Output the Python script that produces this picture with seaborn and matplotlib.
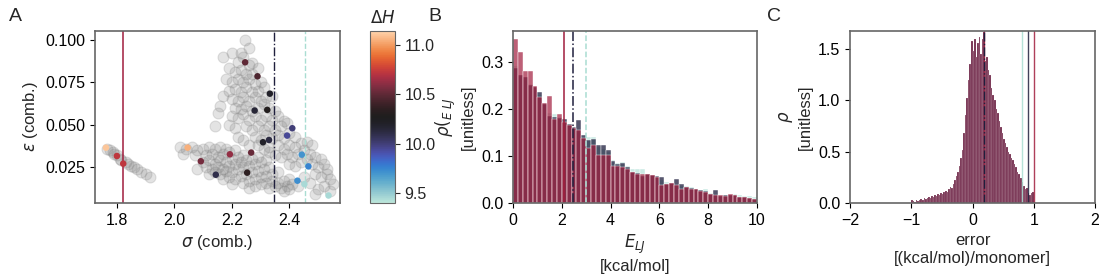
import numpy as np
import pandas as pd
import matplotlib
matplotlib.use('Agg')
import matplotlib.pyplot as plt
import seaborn as sns

# --- panel A: all parameter sets (grey) ---
sigma_all = [
    1.765, 1.775, 1.785, 1.79, 1.80, 1.81, 1.815, 1.83, 1.84, 1.85, 1.86, 1.87, 1.885, 1.90, 1.915,
    2.245, 2.26, 2.20, 2.23, 2.24, 2.17, 2.22, 2.26, 2.27, 2.19, 2.21, 2.23, 2.25, 2.27, 2.29,
    2.18, 2.20, 2.22, 2.24, 2.26, 2.28, 2.30, 2.19, 2.21, 2.23, 2.25, 2.27, 2.29, 2.31,
    2.17, 2.20, 2.22, 2.24, 2.26, 2.28, 2.30, 2.32, 2.34, 2.16, 2.21, 2.23, 2.25, 2.27, 2.29,
    2.31, 2.33, 2.35, 2.15, 2.20, 2.22, 2.24, 2.26, 2.28, 2.30, 2.32, 2.34, 2.36, 2.38,
    2.14, 2.19, 2.21, 2.25, 2.27, 2.29, 2.31, 2.33, 2.35, 2.37, 2.39, 2.22, 2.24, 2.28, 2.30,
    2.32, 2.34, 2.36, 2.38, 2.40, 2.42, 2.26, 2.33, 2.36, 2.38, 2.40, 2.42, 2.44, 2.46, 2.48,
    2.35, 2.37, 2.39, 2.41, 2.43, 2.45, 2.47, 2.49, 2.51, 2.40, 2.42, 2.44, 2.46, 2.48, 2.50,
    2.52, 2.53, 2.49, 2.51, 2.53, 2.54, 2.52, 2.55, 2.54, 2.50, 2.47, 2.45, 2.49,
    2.02, 2.04, 2.06, 2.08, 2.03, 2.07, 2.10, 2.12, 2.14, 2.16, 2.18, 2.11, 2.13, 2.15, 2.17,
    2.19, 2.21, 2.10, 2.12, 2.14, 2.16, 2.18, 2.20, 2.22, 2.24, 2.08, 2.11, 2.13, 2.15, 2.17,
    2.19, 2.21, 2.23, 2.25, 2.27, 2.29, 2.12, 2.14, 2.16, 2.18, 2.20, 2.22, 2.24, 2.26, 2.28,
    2.30, 2.32, 2.17, 2.19, 2.21, 2.23, 2.25, 2.27, 2.29, 2.31, 2.33, 2.20, 2.24, 2.26, 2.28,
    2.30, 2.32, 2.34, 2.36, 2.26, 2.28, 2.30, 2.32, 2.34, 2.36, 2.38, 2.40, 2.33, 2.35, 2.37,
    2.39, 2.41, 2.43, 2.38, 2.40, 2.31, 2.33, 2.29,
]
eps_all = [
    0.036, 0.035, 0.034, 0.033, 0.032, 0.030, 0.029, 0.028, 0.027, 0.026, 0.025, 0.024, 0.022, 0.021, 0.019,
    0.100, 0.095, 0.092, 0.092, 0.090, 0.090, 0.087, 0.085, 0.086, 0.083, 0.081, 0.082, 0.080, 0.080, 0.083,
    0.077, 0.075, 0.077, 0.075, 0.077, 0.074, 0.075, 0.070, 0.071, 0.069, 0.072, 0.069, 0.070, 0.072,
    0.067, 0.065, 0.064, 0.066, 0.064, 0.066, 0.064, 0.066, 0.067, 0.061, 0.060, 0.059, 0.061, 0.058, 0.060,
    0.062, 0.060, 0.058, 0.057, 0.055, 0.054, 0.056, 0.053, 0.055, 0.053, 0.055, 0.053, 0.055, 0.052,
    0.049, 0.050, 0.048, 0.049, 0.047, 0.049, 0.047, 0.049, 0.047, 0.049, 0.051, 0.043, 0.041, 0.043, 0.041,
    0.044, 0.042, 0.044, 0.042, 0.045, 0.043, 0.038, 0.037, 0.038, 0.036, 0.038, 0.037, 0.039, 0.040, 0.038,
    0.032, 0.031, 0.033, 0.031, 0.033, 0.035, 0.033, 0.031, 0.030, 0.027, 0.026, 0.028, 0.030, 0.027, 0.025,
    0.027, 0.024, 0.021, 0.019, 0.021, 0.018, 0.014, 0.015, 0.011, 0.012, 0.016, 0.019, 0.009,
    0.037, 0.036, 0.037, 0.035, 0.033, 0.032, 0.036, 0.037, 0.036, 0.037, 0.036, 0.032, 0.033, 0.031, 0.033,
    0.034, 0.035, 0.028, 0.029, 0.027, 0.029, 0.028, 0.030, 0.031, 0.032, 0.024, 0.025, 0.024, 0.025, 0.024,
    0.026, 0.027, 0.028, 0.029, 0.030, 0.031, 0.021, 0.022, 0.021, 0.023, 0.022, 0.024, 0.025, 0.026, 0.027,
    0.028, 0.029, 0.018, 0.019, 0.018, 0.020, 0.021, 0.022, 0.023, 0.024, 0.025, 0.015, 0.016, 0.017, 0.018,
    0.019, 0.020, 0.021, 0.022, 0.013, 0.014, 0.015, 0.016, 0.017, 0.016, 0.017, 0.018, 0.013, 0.014, 0.013,
    0.014, 0.015, 0.014, 0.011, 0.012, 0.036, 0.034, 0.038,
]

# --- panel A: sets with a computed dH (coloured) ---
sigma_sel = [1.762, 1.800, 1.822, 2.046, 2.092, 2.144, 2.193, 2.246, 2.267, 2.253, 2.289, 2.332,
             2.279, 2.323, 2.308, 2.329, 2.410, 2.392, 2.443, 2.466, 2.428, 2.452, 2.536]
eps_sel = [0.0365, 0.0316, 0.0271, 0.0365, 0.0285, 0.0206, 0.0326, 0.0866, 0.0336, 0.0218, 0.0784, 0.0682,
           0.0583, 0.0587, 0.0397, 0.0410, 0.0479, 0.0436, 0.0324, 0.0255, 0.0171, 0.0151, 0.0084]
dH_sel = [11.10, 10.72, 10.72, 11.05, 10.55, 10.10, 10.62, 10.50, 10.52, 10.35, 10.45, 10.20,
          10.15, 10.30, 10.20, 10.12, 10.00, 9.95, 9.70, 9.75, 9.72, 9.45, 9.45]

# three highlighted sets: crimson, navy, cyan
sigma_lines = [1.822, 2.347, 2.453]
elj_mean = [2.08, 2.45, 2.98]
err_max = [1.00, 0.90, 0.80]
err_mean = 0.18

# --- panel B: E_LJ histograms (bin width 0.2, 0-10) ---
elj_crimson = [0.347, 0.321, 0.280, 0.281, 0.248, 0.224, 0.212, 0.226, 0.179, 0.189,
               0.172, 0.166, 0.160, 0.155, 0.137, 0.116, 0.123, 0.101, 0.101, 0.101,
               0.079, 0.079, 0.077, 0.073, 0.066, 0.062, 0.061, 0.061, 0.059, 0.055,
               0.038, 0.041, 0.043, 0.038, 0.030, 0.034, 0.030, 0.030, 0.026, 0.023,
               0.020, 0.018, 0.016, 0.014, 0.020, 0.016, 0.013, 0.012, 0.011, 0.009]
elj_navy = [0.287, 0.272, 0.268, 0.250, 0.246, 0.236, 0.210, 0.185, 0.183, 0.180,
            0.178, 0.168, 0.162, 0.177, 0.145, 0.133, 0.135, 0.123, 0.123, 0.113,
            0.089, 0.082, 0.084, 0.077, 0.066, 0.064, 0.058, 0.062, 0.060, 0.057,
            0.055, 0.040, 0.043, 0.050, 0.041, 0.033, 0.031, 0.030, 0.028, 0.025,
            0.020, 0.028, 0.015, 0.018, 0.016, 0.018, 0.012, 0.012, 0.010, 0.008]
elj_cyan = [0.290, 0.268, 0.262, 0.252, 0.240, 0.230, 0.212, 0.190, 0.188, 0.182,
            0.172, 0.165, 0.158, 0.150, 0.140, 0.139, 0.139, 0.118, 0.115, 0.108,
            0.091, 0.085, 0.086, 0.078, 0.073, 0.073, 0.073, 0.060, 0.058, 0.052,
            0.048, 0.045, 0.040, 0.038, 0.036, 0.036, 0.033, 0.030, 0.027, 0.030,
            0.022, 0.020, 0.018, 0.016, 0.018, 0.020, 0.016, 0.015, 0.014, 0.012]

# --- panel C: error histogram (bin width 0.025, -1 to 1) ---
err_rho = [0.03, 0.02, 0.01, 0.03, 0.02, 0.03, 0.04, 0.03, 0.05, 0.04,
           0.05, 0.06, 0.05, 0.07, 0.06, 0.08, 0.07, 0.09, 0.08, 0.10,
           0.09, 0.11, 0.12, 0.11, 0.14, 0.16, 0.15, 0.19, 0.22, 0.26,
           0.30, 0.36, 0.44, 0.52, 0.68, 0.86, 1.02, 1.20, 1.35, 1.58,
           1.48, 1.60, 1.42, 1.56, 1.62, 1.45, 1.60, 1.67, 1.38, 1.42,
           1.30, 1.25, 1.12, 1.05, 1.00, 0.92, 0.88, 0.80, 0.74, 0.68,
           0.62, 0.58, 0.55, 0.50, 0.48, 0.44, 0.42, 0.38, 0.35, 0.30,
           0.28, 0.24, 0.20, 0.17, 0.14, 0.15, 0.10, 0.08, 0.10, 0.11]

sns.set_style('ticks')
plt.rcParams['font.family'] = ['Liberation Sans', 'DejaVu Sans']
plt.rcParams['font.size'] = 11
plt.rcParams['axes.labelsize'] = 12
plt.rcParams['mathtext.fontset'] = 'dejavusans'

cmap = sns.color_palette('icefire', as_cmap=True)
norm = plt.Normalize(9.40, 11.14)
c_crimson, c_navy, c_cyan = '#a11d3d', '#1f1f3d', '#a9ddd2'
line_cols = [c_crimson, c_navy, c_cyan]
line_styles = ['-', '-.', '--']

fig = plt.figure(figsize=(11.09, 2.79), dpi=100)
axA = fig.add_axes([0.0857, 0.2724, 0.2209, 0.6165])
cax = fig.add_axes([0.3336, 0.2724, 0.0225, 0.6165])
axB = fig.add_axes([0.4626, 0.2724, 0.2200, 0.6165])
axC = fig.add_axes([0.7665, 0.2724, 0.2209, 0.6165])

# A
sns.scatterplot(x=sigma_all, y=eps_all, ax=axA, color='gray', alpha=0.22, s=62,
                edgecolor='gray', linewidth=0.8)
sel = pd.DataFrame({'sigma': sigma_sel, 'eps': eps_sel, 'dH': dH_sel})
sns.scatterplot(data=sel, x='sigma', y='eps', hue='dH', palette=cmap, hue_norm=norm,
                ax=axA, s=22, edgecolor='none', legend=False, zorder=3)
for xv, c, ls in zip(sigma_lines, line_cols, line_styles):
    axA.axvline(xv, color=c, ls=ls, lw=1.1 if ls == '-' else 1.0, zorder=2)
axA.set_xlim(1.724, 2.576)
axA.set_ylim(0.004, 0.105)
axA.set_xticks([1.8, 2.0, 2.2, 2.4])
axA.set_yticks([0.025, 0.050, 0.075, 0.100])
axA.set_xlabel(r'$\sigma$ (comb.)')
axA.set_ylabel(r'$\varepsilon$ (comb.)')

sm = plt.cm.ScalarMappable(cmap=cmap, norm=norm)
cb = fig.colorbar(sm, cax=cax)
cb.set_ticks([9.5, 10.0, 10.5, 11.0])
cb.outline.set_edgecolor('0.4')
cax.set_title(r'$\Delta H$', fontsize=12, pad=6)

# B
n_B = len(elj_crimson)
centers_B = [0.1 + 0.2 * i for i in range(n_B)]
for vals, c, a in [(elj_cyan, c_cyan, 0.6), (elj_navy, c_navy, 0.75), (elj_crimson, c_crimson, 0.7)]:
    dfb = pd.DataFrame({'x': centers_B, 'w': vals})
    sns.histplot(data=dfb, x='x', weights='w', binwidth=0.2, binrange=(0, 10), ax=axB,
                 color=c, alpha=a, edgecolor='white', linewidth=0.3)
for xv, c, ls in zip(elj_mean, line_cols, line_styles):
    axB.axvline(xv, color=c, ls=ls, lw=1.1)
axB.set_xlim(0, 10)
axB.set_ylim(0, 0.365)
axB.set_xticks([0, 2, 4, 6, 8, 10])
axB.set_yticks([0.0, 0.1, 0.2, 0.3])
axB.set_xlabel('$E_{LJ}$\n[kcal/mol]')
axB.set_ylabel('$\\rho(_{E\\ LJ}$\n[unitless]')

# C
n_C = len(err_rho)
centers_C = [-1 + 0.0125 + 0.025 * i for i in range(n_C)]
dfc = pd.DataFrame({'x': centers_C, 'w': err_rho})
sns.histplot(data=dfc, x='x', weights='w', binwidth=0.025, binrange=(-1, 1), ax=axC,
             color='#6e2445', alpha=0.95, edgecolor='white', linewidth=0.1)
for xv, c in zip(err_max, line_cols):
    axC.axvline(xv, color=c, ls='-', lw=1.0, alpha=0.85)
axC.axvline(err_mean, color=c_crimson, ls='-', lw=1.0, alpha=0.8)
axC.axvline(err_mean, color=c_navy, ls='-.', lw=1.0)
axC.set_xlim(-2, 2)
axC.set_ylim(0, 1.676)
axC.set_xticks([-2, -1, 0, 1, 2])
axC.set_yticks([0.0, 0.5, 1.0, 1.5])
axC.set_xlabel('error\n[(kcal/mol)/monomer]')
axC.set_ylabel('$\\rho$\n[unitless]')

for ax in [axA, axB, axC]:
    for sp in ax.spines.values():
        sp.set_color('0.4')
        sp.set_linewidth(1.2)
    ax.tick_params(colors='black', labelsize=11.5)
cax.tick_params(labelsize=11.5)

fig.text(0.008, 0.925, 'A', fontsize=14)
fig.text(0.386, 0.925, 'B', fontsize=14)
fig.text(0.692, 0.925, 'C', fontsize=14)

fig.savefig('out.png', dpi=100)
